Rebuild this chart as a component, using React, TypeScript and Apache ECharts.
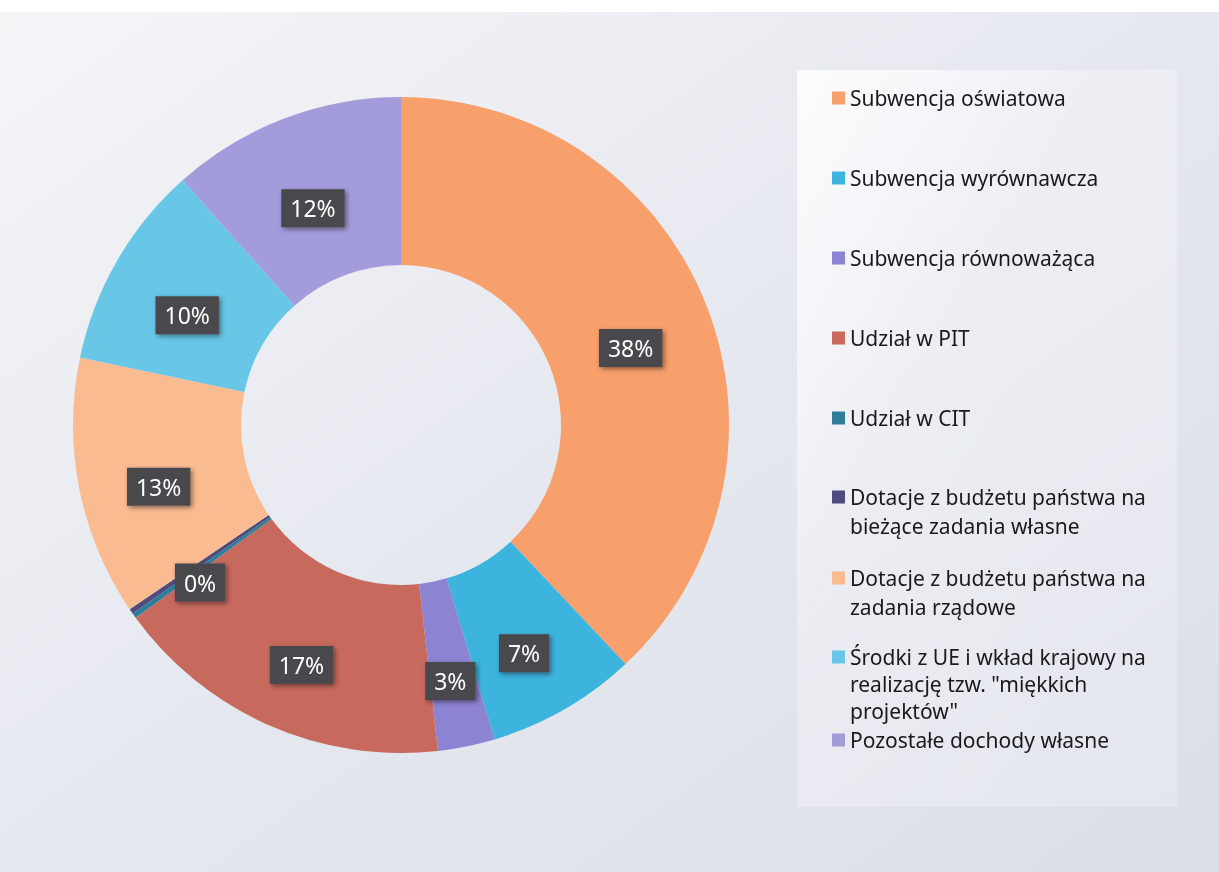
import React, { useEffect, useRef } from "react";
import * as echarts from "echarts";

const categories = [
  "Subwencja oświatowa",
  "Subwencja wyrównawcza",
  "Subwencja równoważąca",
  "Udział w PIT",
  "Udział w CIT",
  "Dotacje z budżetu państwa na bieżące zadania własne",
  "Dotacje z budżetu państwa na zadania rządowe",
  "Środki z UE i wkład krajowy na realizację tzw. \"miękkich projektów\"",
  "Pozostałe dochody własne",
];

const values = [38.0, 7.4, 2.8, 16.8, 0.25, 0.25, 12.8, 10.1, 11.6];

const legendLines = [
  ["Subwencja oświatowa"],
  ["Subwencja wyrównawcza"],
  ["Subwencja równoważąca"],
  ["Udział w PIT"],
  ["Udział w CIT"],
  ["Dotacje z budżetu państwa na", "bieżące zadania własne"],
  ["Dotacje z budżetu państwa na", "zadania rządowe"],
  ["Środki z UE i wkład krajowy na", "realizację tzw. \"miękkich", "projektów\""],
  ["Pozostałe dochody własne"],
];

const colors = [
  "#F8A06C",
  "#3DB4DE",
  "#8D83D3",
  "#C8695D",
  "#2F7E99",
  "#4E4B7F",
  "#FABB91",
  "#68C6E7",
  "#A39CDB",
];

const legendCenters = [98, 178, 258, 338, 418, 497, 578, 657, 740];
const legendLineHeights = [29, 29, 29, 29, 29, 29, 29, 27, 24];

export default function App() {
  const ref = useRef<HTMLDivElement>(null);

  useEffect(() => {
    if (!ref.current) return;
    const chart = echarts.init(ref.current, undefined, { renderer: "svg" });
    const font = "Noto Sans";

    const legends = legendLines.map((lines, i) => {
      const LH = legendLineHeights[i];
      return {
        data: [categories[i]],
        left: 832,
        top: legendCenters[i] - ((2 * lines.length - 1) * LH) / 2,
        orient: "vertical",
        padding: 0,
        itemWidth: 13,
        itemHeight: 13,
        itemGap: 0,
        icon: "rect",
        selectedMode: false,
        formatter: () => "\n".repeat(lines.length - 1) + lines.join("\n"),
        textStyle: {
          fontSize: 21,
          lineHeight: LH,
          color: "#1a1a1d",
          fontFamily: font,
        },
      };
    });

    const option: any = {
      animation: false,
      graphic: [
        {
          type: "rect",
          z: -10,
          silent: true,
          shape: { x: 0, y: 0, width: 1219, height: 872 },
          style: {
            fill: new echarts.graphic.LinearGradient(0, 0, 1, 1, [
              { offset: 0, color: "#F4F5F7" },
              { offset: 0.5, color: "#E5E8EF" },
              { offset: 1, color: "#DADEE7" },
            ]),
          },
        },
        {
          type: "rect",
          z: -9,
          silent: true,
          shape: { x: 797, y: 70, width: 380, height: 737 },
          style: {
            fill: new echarts.graphic.LinearGradient(0, 0, 1, 1, [
              { offset: 0, color: "rgba(255,255,255,0.85)" },
              { offset: 0.4, color: "rgba(255,255,255,0.3)" },
              { offset: 1, color: "rgba(255,255,255,0.22)" },
            ]),
          },
        },
        {
          type: "rect",
          z: -9,
          silent: true,
          shape: { x: 0, y: 0, width: 1219, height: 12 },
          style: { fill: "#FFFFFF" },
        },
      ],
      legend: legends,
      series: [
        {
          type: "pie",
          center: [401, 425],
          radius: [160, 328],
          startAngle: 90,
          clockwise: true,
          percentPrecision: 0,
          avoidLabelOverlap: false,
          emphasis: { disabled: true },
          labelLine: { show: false },
          itemStyle: { borderWidth: 0 },
          label: {
            show: true,
            position: "inside",
            formatter: "{d}%",
            offset: [0, 14],
            color: "#FFFFFF",
            fontSize: 23,
            fontFamily: font,
            backgroundColor: "#4A4A4E",
            padding: [8, 9, 7, 9],
            shadowBlur: 5,
            shadowColor: "rgba(0,0,0,0.45)",
            shadowOffsetX: 2,
            shadowOffsetY: 2,
          },
          data: categories.map((name, i) => ({
            name,
            value: values[i],
            itemStyle: { color: colors[i] },
            label: i === 5 ? { show: false } : undefined,
          })),
        },
      ],
    };

    chart.setOption(option);
    return () => chart.dispose();
  }, []);

  return (
    <div
      ref={ref}
      style={{ position: "fixed", left: 0, top: 0, width: 1219, height: 872 }}
    />
  );
}
